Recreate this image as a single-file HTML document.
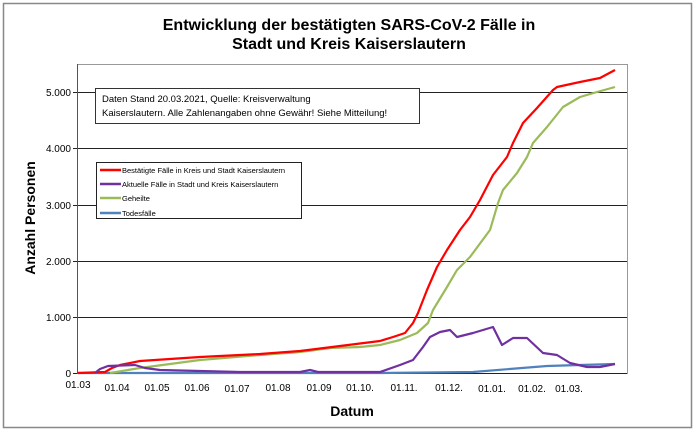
<!DOCTYPE html>
<html><head><meta charset="utf-8"><style>
body{margin:0;background:#fff;width:696px;height:432px;overflow:hidden}
svg text{font-family:"Liberation Sans",Arial,sans-serif}
</style></head><body>
<svg width="696" height="432" viewBox="0 0 696 432">
<rect x="3.5" y="3.5" width="688" height="424" fill="#fff" stroke="#888" stroke-width="1.5"/>
<text x="349" y="30" font-size="16" font-weight="bold" text-anchor="middle">Entwicklung der bestätigten SARS-CoV-2 Fälle in</text>
<text x="349" y="49" font-size="16" font-weight="bold" text-anchor="middle">Stadt und Kreis Kaiserslautern</text>
<rect x="77.5" y="64.5" width="550" height="309" fill="#fff" stroke="#999" stroke-width="1"/>
<g stroke="#222" stroke-width="1">
<line x1="73" y1="92.5" x2="627" y2="92.5"/><line x1="73" y1="148.5" x2="627" y2="148.5"/>
<line x1="73" y1="205.5" x2="627" y2="205.5"/><line x1="73" y1="261.5" x2="627" y2="261.5"/>
<line x1="73" y1="317.5" x2="627" y2="317.5"/><line x1="73" y1="373.5" x2="627" y2="373.5"/>
<line x1="77.5" y1="64" x2="77.5" y2="374" stroke="#555"/>
</g>
<g font-size="10" text-anchor="end" fill="#000">
<text x="71" y="96">5.000</text><text x="71" y="152">4.000</text><text x="71" y="209">3.000</text>
<text x="71" y="265">2.000</text><text x="71" y="321">1.000</text><text x="71" y="377">0</text>
</g>
<g font-size="10" text-anchor="middle" fill="#000">
<text x="78" y="388">01.03</text><text x="117" y="391">01.04</text><text x="157" y="391">01.05</text>
<text x="197" y="391">01.06</text><text x="237" y="392">01.07</text><text x="278" y="391">01.08</text>
<text x="319" y="391">01.09</text><text x="360" y="391">01.10.</text><text x="404" y="391">01.11.</text>
<text x="449" y="391">01.12.</text><text x="492" y="392">01.01.</text><text x="532" y="392">01.02.</text>
<text x="569" y="392">01.03.</text>
</g>
<text x="352" y="416" font-size="14" font-weight="bold" text-anchor="middle">Datum</text>
<text transform="translate(35,218) rotate(-90)" font-size="14" font-weight="bold" text-anchor="middle">Anzahl Personen</text>
<rect x="95.5" y="88.5" width="324" height="35" fill="#fff" stroke="#333" stroke-width="1"/>
<text x="102" y="102" font-size="9.5">Daten Stand 20.03.2021, Quelle: Kreisverwaltung</text>
<text x="102" y="116" font-size="9.5">Kaiserslautern. Alle Zahlenangaben ohne Gewähr! Siehe Mitteilung!</text>
<rect x="96.5" y="162.5" width="205" height="56" fill="#fff" stroke="#222" stroke-width="1"/>
<g stroke-width="2.5">
<line x1="100" y1="170" x2="121" y2="170" stroke="#f00"/>
<line x1="100" y1="184" x2="121" y2="184" stroke="#7030a0"/>
<line x1="100" y1="198" x2="121" y2="198" stroke="#9bbb59"/>
<line x1="100" y1="213" x2="121" y2="213" stroke="#4f81bd"/>
</g>
<g font-size="7.5" fill="#000">
<text x="122" y="173">Bestätigte Fälle in Kreis und Stadt Kaiserslautern</text>
<text x="122" y="187">Aktuelle Fälle in Stadt und Kreis Kaiserslautern</text>
<text x="122" y="201">Geheilte</text>
<text x="122" y="216">Todesfälle</text>
</g>
<g fill="none" stroke-width="2.2" stroke-linejoin="round">
<polyline stroke="#4f81bd" points="78,373 380,373 473,372 547,366 580,365 615,364"/>
<polyline stroke="#9bbb59" points="110,373 140,368 200,360 260,355 300,352 330,348 360,347 380,345 400,340 417,333 428,323 433,310 447,287 457,270 470,257 490,230 498,203 503,190 517,173 527,157 533,143 547,127 563,107 580,97 597,92 615,87"/>
<polyline stroke="#f00" points="78,373 105,372 112,368 120,365 140,361 200,357 260,354 300,351 340,346 380,341 393,337 405,333 413,323 418,313 427,290 437,267 447,250 460,230 470,217 480,200 493,175 507,157 513,143 523,123 537,108 553,90 557,87 580,82 600,78 615,70"/>
<polyline stroke="#7030a0" points="95,373 100,369 108,366 135,365 145,368 160,370 200,371 240,372 300,372 310,370 318,372 380,372 400,365 413,360 423,347 430,337 440,332 450,330 457,337 473,333 493,327 502,345 513,338 527,338 543,353 557,355 570,363 587,367 600,367 615,364"/>
</g>
</svg>
</body></html>
